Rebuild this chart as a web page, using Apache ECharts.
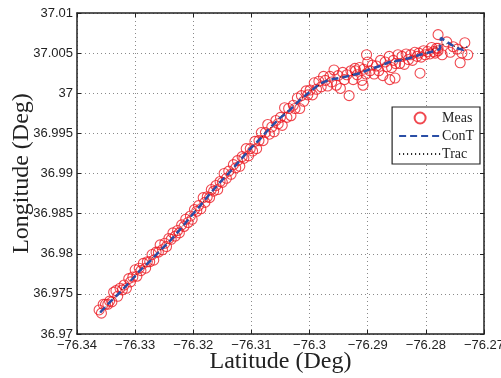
<!DOCTYPE html>
<html>
<head>
<meta charset="utf-8">
<script src="https://cdn.jsdelivr.net/npm/echarts@6/dist/echarts.min.js"></script>
<style>
  html, body { margin: 0; padding: 0; background: #fff; }
  #chart { width: 501px; height: 378px; }
</style>
</head>
<body>
<div id="chart"></div>
<script>
// Measured positions [longitude axis value, latitude axis value]
const measPoints = [
  [-76.3362,36.9730],[-76.3358,36.9726],[-76.3355,36.9737],[-76.3351,36.9737],[-76.3347,36.9737],
  [-76.3344,36.9741],[-76.3340,36.9740],[-76.3337,36.9752],[-76.3333,36.9754],[-76.3330,36.9747],
  [-76.3326,36.9757],[-76.3322,36.9755],[-76.3319,36.9761],[-76.3315,36.9757],[-76.3311,36.9769],
  [-76.3308,36.9765],[-76.3304,36.9771],[-76.3300,36.9780],[-76.3297,36.9772],[-76.3293,36.9782],
  [-76.3290,36.9779],[-76.3286,36.9788],[-76.3282,36.9782],[-76.3279,36.9790],[-76.3275,36.9790],
  [-76.3271,36.9799],[-76.3268,36.9792],[-76.3264,36.9802],[-76.3260,36.9802],[-76.3257,36.9811],
  [-76.3253,36.9805],[-76.3249,36.9813],[-76.3246,36.9809],[-76.3242,36.9819],[-76.3238,36.9818],
  [-76.3235,36.9826],[-76.3231,36.9822],[-76.3227,36.9829],[-76.3224,36.9826],[-76.3220,36.9836],
  [-76.3216,36.9834],[-76.3213,36.9843],[-76.3209,36.9839],[-76.3205,36.9847],[-76.3202,36.9843],
  [-76.3198,36.9855],[-76.3194,36.9853],[-76.3191,36.9860],[-76.3187,36.9856],[-76.3183,36.9870],
  [-76.3180,36.9864],[-76.3176,36.9871],[-76.3172,36.9870],[-76.3169,36.9880],[-76.3165,36.9878],
  [-76.3161,36.9885],[-76.3158,36.9880],[-76.3154,36.9890],[-76.3150,36.9889],[-76.3147,36.9900],
  [-76.3143,36.9894],[-76.3139,36.9903],[-76.3135,36.9899],[-76.3131,36.9911],[-76.3127,36.9907],
  [-76.3124,36.9916],[-76.3120,36.9909],[-76.3116,36.9921],[-76.3113,36.9919],[-76.3109,36.9931],
  [-76.3105,36.9922],[-76.3102,36.9931],[-76.3098,36.9928],[-76.3094,36.9940],[-76.3091,36.9931],
  [-76.3087,36.9941],[-76.3083,36.9951],[-76.3080,36.9941],[-76.3076,36.9951],[-76.3072,36.9961],
  [-76.3069,36.9949],[-76.3065,36.9958],[-76.3061,36.9952],[-76.3058,36.9966],[-76.3054,36.9962],
  [-76.3050,36.9970],[-76.3047,36.9960],[-76.3043,36.9982],[-76.3039,36.9970],[-76.3036,36.9981],
  [-76.3032,36.9972],[-76.3028,36.9985],[-76.3025,36.9981],[-76.3021,36.9994],[-76.3017,36.9981],
  [-76.3014,36.9997],[-76.3010,36.9990],[-76.3006,37.0003],[-76.3003,36.9998],[-76.2999,37.0004],
  [-76.2995,36.9998],[-76.2992,37.0013],[-76.2988,37.0005],[-76.2984,37.0015],[-76.2980,37.0008],
  [-76.2976,37.0021],[-76.2973,37.0016],[-76.2969,37.0009],[-76.2965,37.0021],[-76.2962,37.0014],
  [-76.2958,37.0029],[-76.2954,37.0010],[-76.2951,37.0022],[-76.2947,37.0006],[-76.2943,37.0026],
  [-76.2940,37.0017],[-76.2936,37.0023],[-76.2932,36.9997],[-76.2929,37.0028],[-76.2925,37.0017],
  [-76.2922,37.0031],[-76.2921,37.0028],[-76.2918,37.0023],[-76.2914,37.0032],[-76.2910,37.0016],
  [-76.2908,37.0010],[-76.2907,37.0030],[-76.2903,37.0024],[-76.2902,37.0048],[-76.2900,37.0039],
  [-76.2896,37.0028],[-76.2892,37.0035],[-76.2889,37.0024],[-76.2885,37.0034],[-76.2881,37.0028],
  [-76.2878,37.0041],[-76.2874,37.0022],[-76.2870,37.0039],[-76.2867,37.0033],[-76.2862,37.0017],
  [-76.2863,37.0046],[-76.2859,37.0032],[-76.2856,37.0041],[-76.2853,37.0019],[-76.2852,37.0037],
  [-76.2848,37.0048],[-76.2845,37.0037],[-76.2841,37.0046],[-76.2837,37.0036],[-76.2834,37.0049],
  [-76.2830,37.0042],[-76.2826,37.0048],[-76.2823,37.0041],[-76.2819,37.0051],[-76.2815,37.0046],
  [-76.2812,37.0050],[-76.2810,37.0025],[-76.2808,37.0045],[-76.2804,37.0053],[-76.2801,37.0048],
  [-76.2797,37.0052],[-76.2793,37.0049],[-76.2790,37.0057],[-76.2786,37.0052],[-76.2782,37.0056],
  [-76.2779,37.0053],[-76.2779,37.0073],[-76.2764,37.0064],[-76.2779,37.0056],[-76.2784,37.0050],
  [-76.2772,37.0048],[-76.2746,37.0055],[-76.2738,37.0050],[-76.2733,37.0063],[-76.2728,37.0048],
  [-76.2741,37.0038],[-76.2753,37.0058],[-76.2758,37.0051]
];

// Controlled-tracking estimate
const contPoints = [
  [-76.3360,36.9727],[-76.3343,36.9740],[-76.3326,36.9752],[-76.3309,36.9765],[-76.3292,36.9779],
  [-76.3274,36.9791],[-76.3257,36.9804],[-76.3240,36.9816],[-76.3223,36.9830],[-76.3206,36.9845],
  [-76.3188,36.9860],[-76.3171,36.9875],[-76.3154,36.9889],[-76.3137,36.9902],[-76.3120,36.9916],
  [-76.3102,36.9931],[-76.3085,36.9943],[-76.3068,36.9957],[-76.3051,36.9969],[-76.3034,36.9979],
  [-76.3016,36.9992],[-76.2999,37.0002],[-76.2982,37.0012],[-76.2965,37.0017],[-76.2948,37.0019],
  [-76.2930,37.0022],[-76.2913,37.0025],[-76.2896,37.0030],[-76.2879,37.0034],[-76.2862,37.0039],
  [-76.2844,37.0041],[-76.2827,37.0044],[-76.2810,37.0048],[-76.2793,37.0051],[-76.2776,37.0055],
  [-76.2774,37.0069],[-76.2762,37.0063],[-76.2746,37.0056],[-76.2736,37.0054],[-76.2729,37.0058]
];

// Tracker output
const tracPoints = [
  [-76.3361,36.9726],[-76.3335,36.9746],[-76.3309,36.9766],[-76.3283,36.9785],[-76.3257,36.9805],
  [-76.3231,36.9823],[-76.3206,36.9846],[-76.3180,36.9867],[-76.3154,36.9890],[-76.3128,36.9909],
  [-76.3102,36.9930],[-76.3076,36.9950],[-76.3051,36.9970],[-76.3025,36.9986],[-76.2999,37.0003],
  [-76.2973,37.0015],[-76.2948,37.0020],[-76.2922,37.0024],[-76.2896,37.0031],[-76.2870,37.0036],
  [-76.2844,37.0042],[-76.2819,37.0046],[-76.2793,37.0052],[-76.2776,37.0060],[-76.2762,37.0062],
  [-76.2746,37.0057],[-76.2729,37.0057]
];

const seriesNames = ['Meas', 'ConT', 'Trac'];
const xRange = { min: -76.34, max: -76.27, step: 0.01 };
const yRange = { min: 36.97, max: 37.01, step: 0.005 };
const xTitle = 'Latitude (Deg)';
const yTitle = 'Longitude (Deg)';

const axisColor = '#222';
const measColor = '#ec1c24';
const contColor = '#2a4ea6';
const labelFont = { fontFamily: 'Liberation Sans, Arial, sans-serif', fontSize: 13, color: '#222' };
const gridLine = { show: true, lineStyle: { color: '#8a8a8a', type: [1, 3], width: 1 } };
const serifFont = 'Liberation Serif, Times New Roman, serif';

function fmtX(v) {
  const s = String(parseFloat(v.toFixed(3)));
  return s.replace('-', '\u2212');
}
function fmtY(v) {
  return String(parseFloat(v.toFixed(3)));
}

const chart = echarts.init(document.getElementById('chart'), null, { renderer: 'canvas' });

chart.setOption({
  animation: false,
  backgroundColor: '#fff',
  grid: { left: 77, right: 17, top: 13, bottom: 44, containLabel: false, outerBoundsMode: 'none' },
  xAxis: [
    {
      type: 'value', min: xRange.min, max: xRange.max, interval: xRange.step,
      position: 'bottom',
      axisLine: { show: true, onZero: false, lineStyle: { color: axisColor, width: 1.5 } },
      axisTick: { show: true, inside: true, length: 4, lineStyle: { color: axisColor } },
      axisLabel: Object.assign({ formatter: fmtX, margin: 5 }, labelFont),
      splitLine: gridLine,
      name: xTitle, nameLocation: 'middle', nameGap: 16, nameMoveOverlap: false,
      nameTextStyle: { fontFamily: serifFont, fontSize: 24, color: '#222' }
    },
    {
      type: 'value', min: xRange.min, max: xRange.max, interval: xRange.step,
      position: 'top',
      axisLine: { show: true, onZero: false, lineStyle: { color: axisColor, width: 1.5 } },
      axisTick: { show: true, inside: true, length: 4, lineStyle: { color: axisColor } },
      axisLabel: { show: false },
      splitLine: { show: false }
    }
  ],
  yAxis: [
    {
      type: 'value', min: yRange.min, max: yRange.max, interval: yRange.step,
      position: 'left',
      axisLine: { show: true, onZero: false, lineStyle: { color: axisColor, width: 1.5 } },
      axisTick: { show: true, inside: true, length: 4, lineStyle: { color: axisColor } },
      axisLabel: Object.assign({ formatter: fmtY, margin: 4 }, labelFont),
      splitLine: gridLine,
      name: yTitle, nameLocation: 'middle', nameGap: 43, nameRotate: 90, nameMoveOverlap: false,
      nameTextStyle: { fontFamily: serifFont, fontSize: 24, color: '#222' }
    },
    {
      type: 'value', min: yRange.min, max: yRange.max, interval: yRange.step,
      position: 'right',
      axisLine: { show: true, onZero: false, lineStyle: { color: axisColor, width: 1.5 } },
      axisTick: { show: true, inside: true, length: 4, lineStyle: { color: axisColor } },
      axisLabel: { show: false },
      splitLine: { show: false }
    }
  ],
  legend: {
    orient: 'vertical',
    right: 21, top: 107,
    data: [
      { name: seriesNames[0] },
      { name: seriesNames[1], itemStyle: { opacity: 0 } },
      { name: seriesNames[2], itemStyle: { opacity: 0 } }
    ],
    backgroundColor: '#fff',
    borderColor: '#222', borderWidth: 1.2,
    padding: [4, 6, 3, 6],
    itemGap: 4,
    itemWidth: 42, itemHeight: 11,
    align: 'left',
    textStyle: { fontFamily: serifFont, fontSize: 14, color: '#222', padding: [0, 0, 0, -4] }
  },
  series: [
    {
      name: seriesNames[0], type: 'scatter', xAxisIndex: 0, yAxisIndex: 0,
      data: measPoints,
      symbol: 'circle', symbolSize: 10,
      itemStyle: { color: 'rgba(255,255,255,0)', borderColor: measColor, borderWidth: 1.1 },
      z: 2
    },
    {
      name: seriesNames[2], type: 'line', xAxisIndex: 0, yAxisIndex: 0,
      data: tracPoints, showSymbol: false, symbol: 'none',
      lineStyle: { color: '#111', width: 1, type: [1, 3] },
      itemStyle: { color: '#111' },
      z: 3
    },
    {
      name: seriesNames[1], type: 'line', xAxisIndex: 0, yAxisIndex: 0,
      data: contPoints, showSymbol: false, symbol: 'none',
      lineStyle: { color: contColor, width: 2.5, type: [7, 4] },
      itemStyle: { color: contColor },
      z: 4
    }
  ]
});
</script>
</body>
</html>
